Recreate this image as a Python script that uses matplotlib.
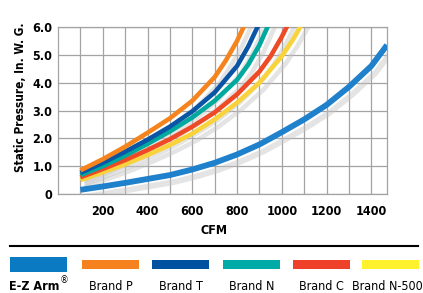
import numpy as np
import matplotlib
matplotlib.use("Agg")
import matplotlib.pyplot as plt
import matplotlib.patheffects as pe
from matplotlib.patches import Rectangle
from matplotlib.lines import Line2D

plt.rcParams['font.family'] = ['DejaVu Sans']
plt.rcParams['font.stretch'] = 'condensed'

# CFM vs static pressure (in. W.G.)
ez_cfm = [100, 200, 300, 400, 500, 600, 700, 800, 900, 1000, 1100, 1200, 1300, 1400, 1470]
ez_sp = [0.15, 0.27, 0.40, 0.54, 0.68, 0.88, 1.12, 1.42, 1.78, 2.22, 2.68, 3.20, 3.85, 4.60, 5.35]

brand_p_cfm = [100, 200, 300, 400, 500, 600, 700, 750, 800, 850]
brand_p_sp = [0.85, 1.25, 1.70, 2.20, 2.72, 3.35, 4.20, 4.80, 5.50, 6.35]

brand_t_cfm = [100, 200, 300, 400, 500, 600, 700, 800, 850, 900]
brand_t_sp = [0.76, 1.12, 1.52, 1.95, 2.42, 2.97, 3.65, 4.60, 5.30, 6.15]

brand_n_cfm = [100, 200, 300, 400, 500, 600, 700, 800, 850, 900, 950]
brand_n_sp = [0.68, 1.00, 1.38, 1.80, 2.25, 2.75, 3.35, 4.10, 4.65, 5.35, 6.25]

brand_c_cfm = [100, 200, 300, 400, 500, 600, 700, 800, 900, 950, 1000, 1050]
brand_c_sp = [0.60, 0.90, 1.22, 1.58, 1.97, 2.42, 2.93, 3.58, 4.40, 4.95, 5.65, 6.45]

brand_n5_cfm = [100, 200, 300, 400, 500, 600, 700, 800, 900, 1000, 1050, 1100]
brand_n5_sp = [0.50, 0.78, 1.07, 1.40, 1.76, 2.17, 2.68, 3.28, 4.00, 4.95, 5.55, 6.25]

names = ['E-Z Arm', 'Brand P', 'Brand T', 'Brand N', 'Brand C', 'Brand N-5000']
x_series = [ez_cfm, brand_p_cfm, brand_t_cfm, brand_n_cfm, brand_c_cfm, brand_n5_cfm]
y_series = [ez_sp, brand_p_sp, brand_t_sp, brand_n_sp, brand_c_sp, brand_n5_sp]
line_colors = ['#1f80cc', '#f5841f', '#0a55a5', '#00a99d', '#ef4a26', '#f9d33c']
patch_colors = ['#0a7bc3', '#f6821f', '#0052a1', '#00aaa7', '#ef4129', '#fff22d']

x_major = [200, 400, 600, 800, 1000, 1200, 1400]
y_ticks = [0, 1, 2, 3, 4, 5, 6]
y_labels = ['0', '1.0', '2.0', '3.0', '4.0', '5.0', '6.0']

fig = plt.figure(figsize=(4.23, 2.93), dpi=100)
ax = fig.add_axes([58 / 423, 1 - 194 / 293, 329 / 423, 167 / 293])

grid_c = '#a3a3a3'
# shadows first so they sit under every line
for xs, ys, name in zip(x_series, y_series, names):
    lw = 4.2 if name == 'E-Z Arm' else 3.3
    ax.plot(xs, ys, color='none', lw=lw, zorder=2, solid_capstyle='butt',
            path_effects=[pe.SimpleLineShadow(offset=(3, -5), shadow_color='#c4c4c4', alpha=0.45)])

# draw bottom brand first so the order matches the stack
order = [0, 5, 4, 3, 2, 1]
for i in order:
    lw = 4.2 if i == 0 else 3.3
    ax.plot(x_series[i], y_series[i], color=line_colors[i], lw=lw, zorder=3,
            solid_capstyle='butt', solid_joinstyle='round')

ax.set_xlim(0, 1470)
ax.set_ylim(0, 6)
ax.set_xticks(x_major)
ax.set_xticks(range(100, 1500, 100), minor=True)
ax.set_yticks(y_ticks)
ax.set_yticklabels(y_labels)
ax.grid(True, which='both', color=grid_c, lw=0.9)
ax.set_axisbelow(True)
ax.tick_params(axis='both', which='both', length=0, labelsize=9, pad=4)
ax.tick_params(axis='x', pad=8)
for lab in ax.get_xticklabels() + ax.get_yticklabels():
    lab.set_fontweight('bold')
for s in ax.spines.values():
    s.set_color(grid_c)
    s.set_linewidth(0.9)

fig.text(0.5 * (58 + 387) / 423 - 0.02, 1 - 230 / 293, 'CFM', ha='center', va='center',
         fontsize=9, fontweight='bold')
fig.text(20 / 423, 1 - 97 / 293, 'Static Pressure, In. W. G.', rotation=90,
         ha='center', va='center', fontsize=8.5, fontweight='bold')

# legend strip
fig.add_artist(Line2D([10 / 423, 418 / 423], [1 - 246 / 293, 1 - 246 / 293],
                      color='black', lw=1.5, transform=fig.transFigure))
lefts = [10, 82, 152, 223, 293, 362]
for i, name in enumerate(names):
    if i == 0:
        y0, h = 257, 15
    else:
        y0, h = 260, 9
    fig.add_artist(Rectangle((lefts[i] / 423, 1 - (y0 + h) / 293), 57 / 423, h / 293,
                             color=patch_colors[i], transform=fig.transFigure, lw=0))
    cx = (lefts[i] + 28.5) / 423
    if i == 0:
        fig.text(cx - 0.01, 1 - 287 / 293, name, ha='center', va='center',
                 fontsize=9, fontweight='bold')
        fig.text(cx + 0.061, 1 - 280 / 293, '\u00ae', ha='center', va='center', fontsize=7)
    else:
        fig.text(cx, 1 - 287 / 293, name, ha='center', va='center', fontsize=9)

fig.savefig('out.png', dpi=100)
